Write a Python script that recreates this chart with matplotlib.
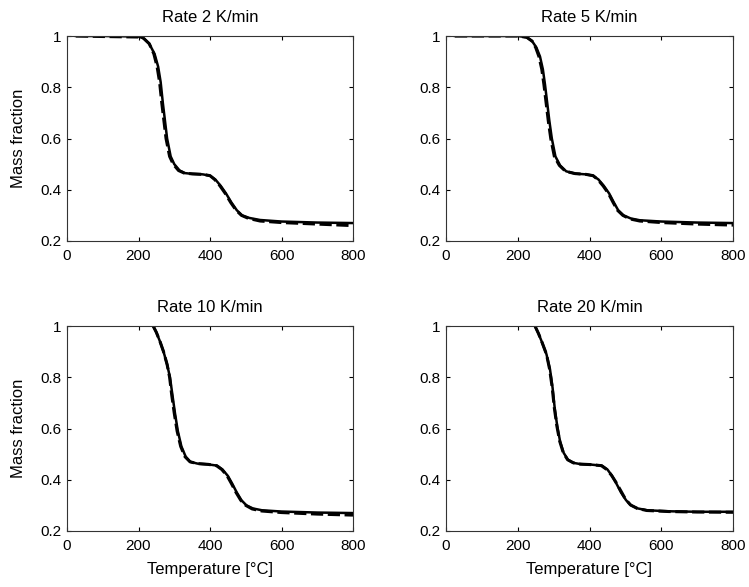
import matplotlib
matplotlib.use("Agg")
import matplotlib.pyplot as plt

titles = ["Rate 2 K/min", "Rate 5 K/min", "Rate 10 K/min", "Rate 20 K/min"]
xticks = [0, 200, 400, 600, 800]
yticks = [0.2, 0.4, 0.6, 0.8, 1.0]
yticklabels = ["0.2", "0.4", "0.6", "0.8", "1"]

# Rate 2 K/min
t2_model = [25, 100, 200, 215, 230, 245, 255, 262, 268, 274, 280, 290, 300, 315, 330, 350, 380, 400, 415, 430, 445, 460, 475, 490, 510, 540, 600, 700, 800]
m2_model = [1.0, 1.0, 0.998, 0.99, 0.97, 0.93, 0.88, 0.82, 0.74, 0.67, 0.60, 0.53, 0.50, 0.475, 0.465, 0.462, 0.46, 0.455, 0.44, 0.415, 0.385, 0.35, 0.32, 0.30, 0.29, 0.282, 0.276, 0.272, 0.270]
t2_exp = [25, 100, 200, 215, 230, 243, 252, 259, 265, 271, 277, 287, 297, 312, 328, 350, 380, 400, 413, 428, 443, 458, 473, 488, 508, 540, 600, 700, 800]
m2_exp = [1.0, 0.998, 0.996, 0.99, 0.97, 0.93, 0.88, 0.82, 0.74, 0.67, 0.60, 0.53, 0.50, 0.475, 0.465, 0.462, 0.46, 0.455, 0.44, 0.415, 0.385, 0.35, 0.32, 0.30, 0.288, 0.278, 0.272, 0.266, 0.260]

# Rate 5 K/min
t5_model = [25, 100, 200, 225, 240, 252, 262, 270, 276, 282, 288, 295, 305, 318, 335, 360, 390, 410, 425, 440, 455, 468, 480, 495, 515, 540, 600, 700, 800]
m5_model = [1.0, 1.0, 1.0, 0.995, 0.98, 0.955, 0.92, 0.87, 0.81, 0.74, 0.67, 0.60, 0.53, 0.495, 0.472, 0.463, 0.46, 0.455, 0.44, 0.415, 0.385, 0.35, 0.32, 0.30, 0.288, 0.281, 0.276, 0.272, 0.270]
t5_exp = [25, 100, 200, 225, 240, 250, 259, 267, 273, 279, 285, 292, 302, 316, 333, 360, 390, 410, 423, 438, 453, 466, 478, 493, 513, 540, 600, 700, 800]
m5_exp = [1.0, 1.0, 1.0, 0.995, 0.98, 0.955, 0.92, 0.87, 0.81, 0.74, 0.67, 0.60, 0.53, 0.495, 0.472, 0.463, 0.46, 0.455, 0.44, 0.415, 0.385, 0.35, 0.32, 0.30, 0.286, 0.278, 0.272, 0.266, 0.262]

# Rate 10 K/min
t10_model = [241, 250, 260, 270, 280, 288, 295, 302, 310, 320, 332, 345, 365, 395, 420, 435, 450, 462, 475, 488, 502, 520, 545, 600, 700, 800]
m10_model = [1.0, 0.975, 0.94, 0.90, 0.85, 0.80, 0.73, 0.66, 0.59, 0.53, 0.49, 0.47, 0.463, 0.46, 0.455, 0.44, 0.415, 0.385, 0.35, 0.32, 0.30, 0.288, 0.281, 0.276, 0.272, 0.270]
t10_exp = [241, 250, 260, 270, 280, 287, 293, 300, 308, 318, 330, 344, 365, 395, 418, 433, 448, 460, 473, 486, 500, 518, 545, 600, 700, 800]
m10_exp = [1.0, 0.975, 0.94, 0.90, 0.85, 0.80, 0.73, 0.66, 0.59, 0.53, 0.49, 0.47, 0.463, 0.46, 0.455, 0.44, 0.415, 0.385, 0.35, 0.32, 0.30, 0.286, 0.278, 0.272, 0.266, 0.262]

# Rate 20 K/min
t20_model = [248, 258, 268, 280, 290, 297, 303, 310, 318, 328, 340, 355, 375, 405, 435, 450, 463, 475, 488, 502, 516, 535, 560, 620, 700, 800]
m20_model = [1.0, 0.97, 0.935, 0.89, 0.83, 0.76, 0.68, 0.61, 0.55, 0.505, 0.478, 0.466, 0.461, 0.459, 0.455, 0.44, 0.415, 0.385, 0.35, 0.32, 0.30, 0.288, 0.281, 0.277, 0.275, 0.275]
t20_exp = [248, 258, 268, 280, 289, 296, 302, 309, 317, 327, 339, 355, 375, 405, 433, 448, 461, 473, 486, 500, 514, 533, 560, 620, 700, 800]
m20_exp = [1.0, 0.97, 0.935, 0.89, 0.83, 0.76, 0.68, 0.61, 0.55, 0.505, 0.478, 0.466, 0.461, 0.459, 0.455, 0.44, 0.418, 0.392, 0.36, 0.325, 0.302, 0.288, 0.280, 0.276, 0.274, 0.273]

series = [
    (t2_model, m2_model, t2_exp, m2_exp),
    (t5_model, m5_model, t5_exp, m5_exp),
    (t10_model, m10_model, t10_exp, m10_exp),
    (t20_model, m20_model, t20_exp, m20_exp),
]

plt.rcParams['font.family'] = ['Liberation Sans', 'DejaVu Sans']
fig = plt.figure(figsize=(7.49, 5.87), dpi=100)

positions = [
    [67/749, 1-241/587, 286/749, 205/587],
    [446/749, 1-241/587, 287/749, 205/587],
    [67/749, 1-531/587, 286/749, 205/587],
    [446/749, 1-531/587, 287/749, 205/587],
]

for i, (pos, title, (tm, mm, te, me)) in enumerate(zip(positions, titles, series)):
    ax = fig.add_axes(pos)
    ax.plot(te, me, color='black', linestyle='--', linewidth=2.2, dashes=(4, 1.5))
    ax.plot(tm, mm, color='black', linestyle='-', linewidth=1.8)
    ax.set_xlim(0, 800)
    ax.set_ylim(0.2, 1.0)
    ax.set_xticks(xticks)
    ax.set_xticklabels([str(x) for x in xticks])
    ax.set_yticks(yticks)
    ax.set_yticklabels(yticklabels)
    ax.tick_params(direction='in', top=True, right=True, length=3, labelsize=11)
    ax.tick_params(axis='x', pad=6)
    ax.tick_params(axis='y', pad=4)
    for s in ax.spines.values():
        s.set_linewidth(0.8)
        s.set_color('#333333')
    ax.set_title(title, fontsize=12, pad=10)
    if i % 2 == 0:
        ax.set_ylabel("Mass fraction", fontsize=12, labelpad=10)
    if i >= 2:
        ax.set_xlabel("Temperature [°C]", fontsize=12, labelpad=6)

fig.savefig("out.png", dpi=100)
